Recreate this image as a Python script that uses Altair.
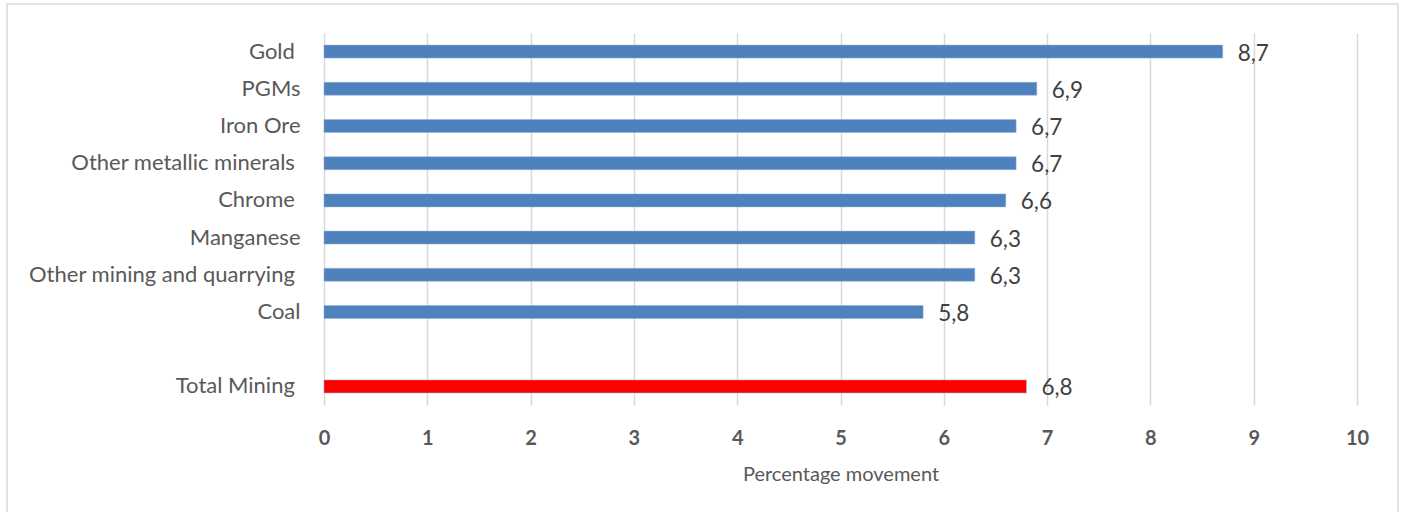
import altair as alt
import pandas as pd

SP = " \u200b"
categories = ["Gold" + SP, "PGMs", "Iron Ore", "Other metallic minerals" + SP, "Chrome" + SP,
              "Manganese", "Other mining and quarrying" + SP, "Coal", " ", "Total Mining" + SP]
values = [8.7, 6.9, 6.7, 6.7, 6.6, 6.3, 6.3, 5.8, None, 6.8]
groups = ["sector"] * 8 + ["blank", "total"]

df = pd.DataFrame({"cat": categories, "value": values, "group": groups})
df = df[df["group"] != "blank"]

FONT = "Lato"
GREY = "#595959"

y_enc = alt.Y("cat:N", sort=categories,
              scale=alt.Scale(domain=categories, paddingInner=0.65, paddingOuter=0.325),
              axis=alt.Axis(title=None, labelFont=FONT, labelFontSize=22, labelColor=GREY,
                            labelPadding=24, labelLimit=0, ticks=False, domain=False, grid=False))
x_enc = alt.X("value:Q", scale=alt.Scale(domain=[0, 10], nice=False),
              axis=alt.Axis(values=list(range(11)), format="d", title="Percentage movement",
                            titleFont=FONT, titleFontSize=20, titleFontWeight="normal",
                            titleColor=GREY, titlePadding=16,
                            labelFont=FONT, labelFontSize=20, labelFontWeight="bold",
                            labelColor=GREY, labelPadding=23, labelFlush=False,
                            ticks=False, domain=False,
                            grid=True, gridColor="#d9d9d9", gridWidth=1.5))

base = alt.Chart(df)

bars = base.mark_bar(stroke="#95b3d7", strokeWidth=0.5).encode(
    x=x_enc, y=y_enc,
    color=alt.Color("group:N", scale=alt.Scale(domain=["sector", "total"],
                                               range=["#4F81BD", "#FF0000"]), legend=None),
)

labels = base.transform_calculate(
    lbl="replace(format(datum.value, '.1f'), '.', ',')"
).mark_text(align="left", baseline="middle", dx=15, dy=2, font=FONT, fontSize=22.5,
            color="#404040").encode(x="value:Q", y=alt.Y("cat:N", sort=categories), text="lbl:N")

frame = alt.Chart(pd.DataFrame({"d": [0]})).mark_rect(
    fill=None, stroke="#d9d9d9", strokeWidth=1.5
).encode(x=alt.value(-317), x2=alt.value(1074), y=alt.value(-29), y2=alt.value(520))

chart = alt.layer(frame, bars, labels).properties(
    width=1033, height=372,
    autosize=alt.AutoSizeParams(type="none"),
    padding={"left": 324, "top": 33, "right": 46, "bottom": 107},
    background="white",
).configure_view(stroke=None)

chart.save("out.html", embed_options={"renderer": "svg", "actions": False})
